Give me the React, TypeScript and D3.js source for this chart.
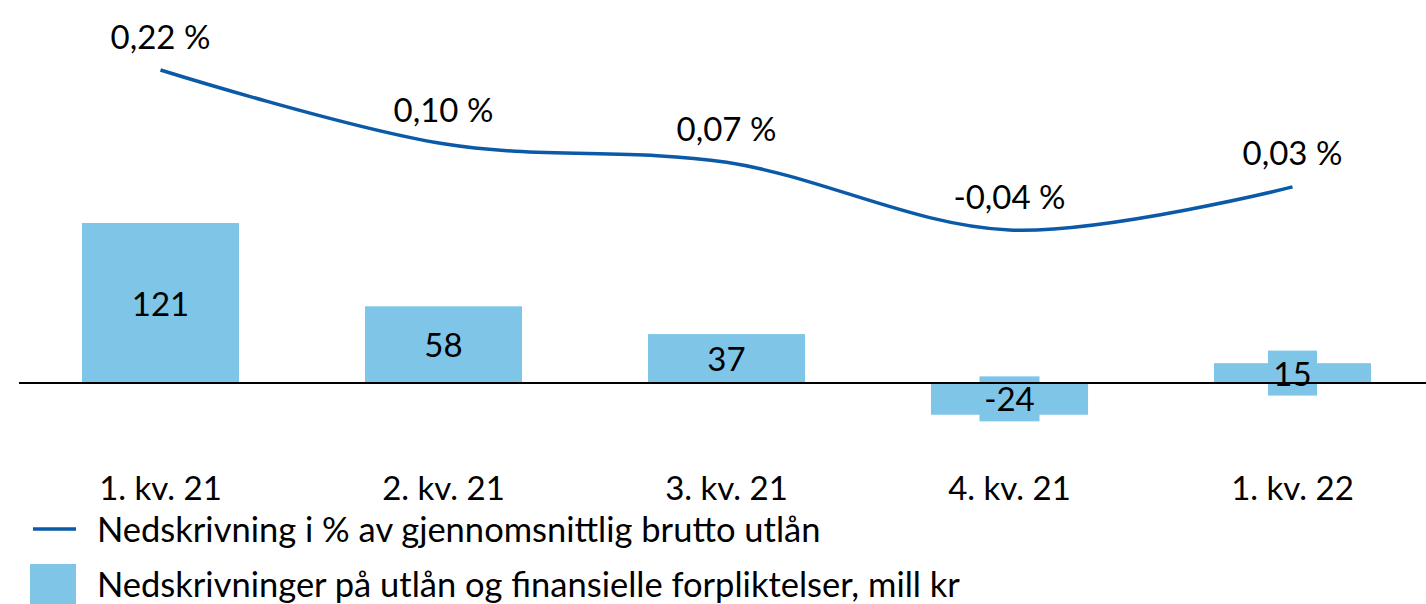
import React from 'react';
import * as d3 from 'd3';

const quarters = ['1. kv. 21', '2. kv. 21', '3. kv. 21', '4. kv. 21', '1. kv. 22'];
const writedowns = [121, 58, 37, -24, 15];
const ratio = [0.22, 0.1, 0.07, -0.04, 0.03];
const ratioLabels = ['0,22 %', '0,10 %', '0,07 %', '-0,04 %', '0,03 %'];
const legendLine = 'Nedskrivning i % av gjennomsnittlig brutto utlån';
const legendBar = 'Nedskrivninger på utlån og finansielle forpliktelser, mill kr';

const WIDTH = 1426;
const HEIGHT = 604;
const FONT = 'Lato, "Open Sans", sans-serif';
const FS = 33;
const BAR_COLOR = '#7fc5e8';
const LINE_COLOR = '#0a5aa8';

// rough label box width, like the label background Excel draws
const boxWidth = (s: string) =>
  s.split('').reduce((w, c) => w + (c === '-' ? 11 : 18.5), 0) + 12;

const App = () => {
  const x = d3.scaleBand<string>().domain(quarters).range([19, 1434]).paddingInner(0.445).paddingOuter(0.2225);
  const yBar = d3.scaleLinear().domain([0, 121]).range([383, 223]);
  const yLine = d3.scaleLinear().domain([-0.04, 0.22]).range([230, 70]);
  const cx = (i: number) => x(quarters[i])! + x.bandwidth() / 2;

  const line = d3
    .line<number>()
    .x((d, i) => cx(i))
    .y((d) => yLine(d))
    .curve(d3.curveCatmullRom.alpha(0.5));

  return (
    <svg width={WIDTH} height={HEIGHT} style={{ position: 'absolute', left: 0, top: 0 }} fontFamily={FONT}>
      <rect width={WIDTH} height={HEIGHT} fill="#fff" />
      {writedowns.map((v, i) => {
        const y0 = yBar(Math.max(0, v));
        const y1 = yBar(Math.min(0, v));
        const mid = (y0 + y1) / 2;
        const bw = boxWidth(String(v));
        return (
          <g key={quarters[i]}>
            <rect x={x(quarters[i])} y={y0} width={x.bandwidth()} height={y1 - y0} fill={BAR_COLOR} />
            <rect x={cx(i) - bw / 2} y={mid - 22.5} width={bw} height={45} fill={BAR_COLOR} />
          </g>
        );
      })}
      <line x1={19} x2={1426} y1={yBar(0)} y2={yBar(0)} stroke="#000" strokeWidth={2} />
      {writedowns.map((v, i) => {
        const mid = (yBar(Math.max(0, v)) + yBar(Math.min(0, v))) / 2;
        return (
          <text key={'bl' + i} x={cx(i)} y={mid + 1} dy="0.35em" textAnchor="middle" fontSize={FS} fill="#000">
            {v}
          </text>
        );
      })}
      <path d={line(ratio)!} fill="none" stroke={LINE_COLOR} strokeWidth={3.5} />
      {ratio.map((v, i) => (
        <text key={'ll' + i} x={cx(i)} y={yLine(v) - 33} dy="0.35em" textAnchor="middle" fontSize={FS} fill="#000">
          {ratioLabels[i]}
        </text>
      ))}
      {quarters.map((q, i) => (
        <text key={q} x={cx(i)} y={488} dy="0.35em" textAnchor="middle" fontSize={FS} fill="#000">
          {q}
        </text>
      ))}
      <line x1={33} x2={76} y1={529} y2={529} stroke={LINE_COLOR} strokeWidth={3.5} />
      <text x={97} y={530} dy="0.35em" fontSize={34.5} fill="#000">
        {legendLine}
      </text>
      <rect x={30} y={564} width={46} height={40} fill={BAR_COLOR} />
      <text x={97} y={585} dy="0.35em" fontSize={34.5} fill="#000">
        {legendBar}
      </text>
    </svg>
  );
};

export default App;
